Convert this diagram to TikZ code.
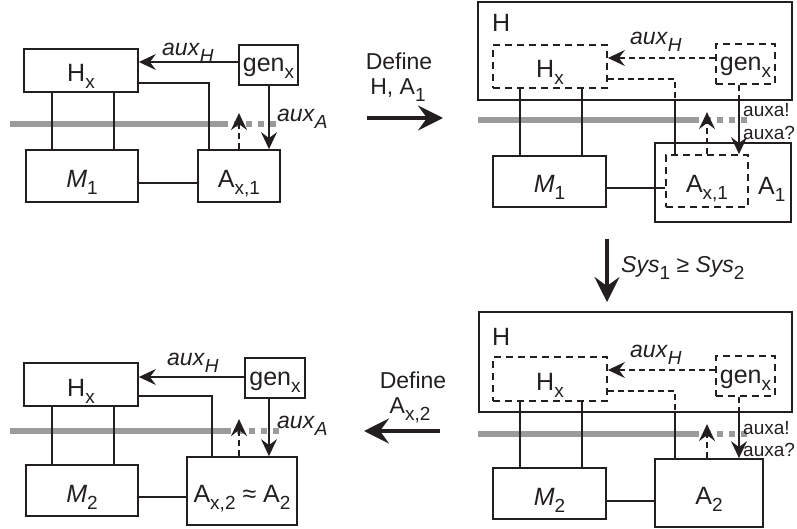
\documentclass[tikz,border=0pt]{standalone}
\usepackage{fontspec}
\setmainfont{Liberation Sans}
\usetikzlibrary{arrows.meta}
\definecolor{barg}{RGB}{155,155,155}
\definecolor{ink}{RGB}{35,31,32}
\newcommand{\sbx}[1]{\raisebox{-7pt}{\fontsize{19}{19}\selectfont #1}}
\newcommand{\sbi}[1]{\raisebox{-7pt}{\fontsize{19}{19}\selectfont\itshape #1}}
\begin{document}
\begin{tikzpicture}[x=1pt,y=-1pt,
  font=\fontsize{23}{25}\selectfont, color=ink,
  box/.style={draw, line width=1.8pt, inner sep=0pt, font=\fontsize{25}{27}\selectfont, text height=23pt, text depth=0pt},
  genbox/.style={text height=14pt},
  dbox/.style={box, dash pattern=on 7pt off 5pt, line width=1.8pt},
  conn/.style={line width=1.4pt},
  dconn/.style={conn, dash pattern=on 6pt off 4pt},
  arr/.style={conn, -{Stealth[length=17pt,width=16pt,inset=6pt]}},
  darr/.style={arr, dash pattern=on 6pt off 4pt},
  bar/.style={line width=6pt, barg},
  dbar/.style={bar, dash pattern=on 6pt off 6pt},
  bigarr/.style={line width=3.2pt, -{Stealth[length=25pt,width=25pt,inset=9pt]}},
  lab/.style={inner sep=0pt, anchor=base west},
  clab/.style={inner sep=0pt, anchor=base},
  boxlab/.style={lab, font=\fontsize{25}{27}\selectfont},
  small/.style={lab, font=\fontsize{19}{20}\selectfont},
]
\useasboundingbox (0,0) rectangle (797,529);

% ---------------- top left ----------------
\draw[bar] (10,124) -- (222,124);
\draw[dbar] (222,124) -- (280,124);
\node[box, minimum width=114pt, minimum height=43pt] (hxA) at (81,70.5) {H\sbx{x}};
\node[box, genbox, minimum width=59pt, minimum height=40pt] (genA) at (268.5,65) {gen\sbx{x}};
\node[box, minimum width=112pt, minimum height=52pt] (mA) at (82,176) {\textit{M}\sbx{1}};
\node[box, minimum width=82pt, minimum height=52pt] (axA) at (239,176) {A\sbx{x,1}};
\draw[arr] (genA.west |- 0,62) -- (hxA.east |- 0,62);
\node[lab] at (162,56) {\textit{aux}\sbi{H}};
\draw[conn] (hxA.east |- 0,83) -| (axA.north -| 209,0);
\draw[conn] (hxA.south -| 52,0) -- (mA.north -| 52,0);
\draw[conn] (hxA.south -| 114,0) -- (mA.north -| 114,0);
\draw[conn] (mA.east |- 0,183) -- (axA.west |- 0,183);
\draw[darr] (axA.north) -- ++(0,-36);
\draw[arr] (genA.south -| 269,0) -- (axA.north -| 269,0);
\node[lab] at (277,122) {\textit{aux}\sbi{A}};

% ---------------- define H, A1 ----------------
\coordinate (d1s) at (367,118);
\coordinate (d1e) at (443,118);
\draw[bigarr] (d1s) -- (d1e);
\node[clab] at (399,70) {Define};
\node[clab] at (398,95) {H, A\sbx{1}};

% ---------------- top right ----------------
\draw[bar] (478,120) -- (693,120);
\draw[dbar] (693,120) -- (750,120);
\node[box, minimum width=314pt, minimum height=98pt] (HB) at (635,51) {};
\node[boxlab] at (492,32) {H};
\node[dbox, minimum width=114pt, minimum height=43pt] (hxB) at (550,66.5) {H\sbx{x}};
\node[dbox, genbox, minimum width=59pt, minimum height=40pt] (genB) at (745.5,64) {gen\sbx{x}};
\node[box, minimum width=113pt, minimum height=51pt] (mB) at (549.5,181.5) {\textit{M}\sbx{1}};
\node[box, minimum width=136pt, minimum height=79pt] (A1) at (723,182.5) {};
\node[boxlab] at (758,195) {A\sbx{1}};
\node[dbox, minimum width=82pt, minimum height=52pt] (axB) at (707,181) {A\sbx{x,1}};
\draw[darr] (genB.west |- 0,58) -- (hxB.east |- 0,58);
\node[lab] at (630,45) {\textit{aux}\sbi{H}};
\draw[dconn] (hxB.east |- 0,79) -| (HB.south -| 675,0);
\draw[conn] (HB.south -| 675,0) -- (axB.north -| 675,0);
\draw[conn] (hxB.south -| 520,0) -- (mB.north -| 520,0);
\draw[conn] (hxB.south -| 582,0) -- (mB.north -| 582,0);
\draw[conn] (mB.east |- 0,188) -- (axB.west |- 0,188);
\draw[darr] (axB.north) -- ++(0,-42);
\draw[dconn] (genB.south -| 739,0) -- (HB.south -| 739,0);
\draw[arr] (HB.south -| 739,0) -- (axB.north -| 739,0);
\node[small] at (743,117) {auxa!};
\node[small] at (743,140) {auxa?};

% ---------------- Sys arrow ----------------
\coordinate (s1) at (607,239);
\coordinate (s2) at (607,302);
\draw[bigarr] (s1) -- (s2);
\node[lab] at (621,272) {\textit{Sys}\sbx{1} ≥ \textit{Sys}\sbx{2}};

% ---------------- bottom right ----------------
\draw[bar] (478,434) -- (693,434);
\draw[dbar] (693,434) -- (750,434);
\node[box, minimum width=313pt, minimum height=100pt] (HC) at (635.5,362) {};
\node[boxlab] at (492,345) {H};
\node[dbox, minimum width=114pt, minimum height=44pt] (hxC) at (550,379) {H\sbx{x}};
\node[dbox, genbox, minimum width=59pt, minimum height=40pt] (genC) at (745.5,376) {gen\sbx{x}};
\node[box, minimum width=113pt, minimum height=51pt] (mC) at (549.5,493.5) {\textit{M}\sbx{2}};
\node[box, minimum width=108pt, minimum height=68pt] (A2) at (709,493) {A\sbx{2}};
\draw[darr] (genC.west |- 0,370) -- (hxC.east |- 0,370);
\node[lab] at (630,357) {\textit{aux}\sbi{H}};
\draw[dconn] (hxC.east |- 0,391) -| (HC.south -| 675,0);
\draw[conn] (HC.south -| 675,0) -- (A2.north -| 675,0);
\draw[conn] (hxC.south -| 520,0) -- (mC.north -| 520,0);
\draw[conn] (hxC.south -| 582,0) -- (mC.north -| 582,0);
\draw[conn] (mC.east |- 0,501) -- (A2.west |- 0,501);
\draw[darr] (A2.north -| 707,0) -- ++(0,-34);
\draw[dconn] (genC.south -| 739,0) -- (HC.south -| 739,0);
\draw[arr] (HC.south -| 739,0) -- (A2.north -| 739,0);
\node[small] at (743,434) {auxa!};
\node[small] at (743,456) {auxa?};

% ---------------- define A_x,2 ----------------
\coordinate (d2s) at (440,431);
\coordinate (d2e) at (364,431);
\draw[bigarr] (d2s) -- (d2e);
\node[clab] at (413,388) {Define};
\node[clab] at (410,413) {A\sbx{x,2}};

% ---------------- bottom left ----------------
\draw[bar] (10,431) -- (225,431);
\draw[dbar] (225,431) -- (282,431);
\node[box, minimum width=114pt, minimum height=43pt] (hxD) at (81,384.5) {H\sbx{x}};
\node[box, genbox, minimum width=60pt, minimum height=40pt] (genD) at (275,378) {gen\sbx{x}};
\node[box, minimum width=112pt, minimum height=51pt] (mD) at (82,490.5) {\textit{M}\sbx{2}};
\node[box, minimum width=110pt, minimum height=68pt] (axD) at (242,491) {A\sbx{x,2} ≈ A\sbx{2}};
\draw[arr] (genD.west |- 0,377) -- (hxD.east |- 0,377);
\node[lab] at (167,365) {\textit{aux}\sbi{H}};
\draw[conn] (hxD.east |- 0,396) -| (axD.north -| 212,0);
\draw[conn] (hxD.south -| 52,0) -- (mD.north -| 52,0);
\draw[conn] (hxD.south -| 114,0) -- (mD.north -| 114,0);
\draw[conn] (mD.east |- 0,497) -- (axD.west |- 0,497);
\draw[darr] (axD.north -| 239,0) -- ++(0,-37);
\draw[arr] (genD.south -| 269,0) -- (axD.north -| 269,0);
\node[lab] at (277,428) {\textit{aux}\sbi{A}};
\end{tikzpicture}
\end{document}
